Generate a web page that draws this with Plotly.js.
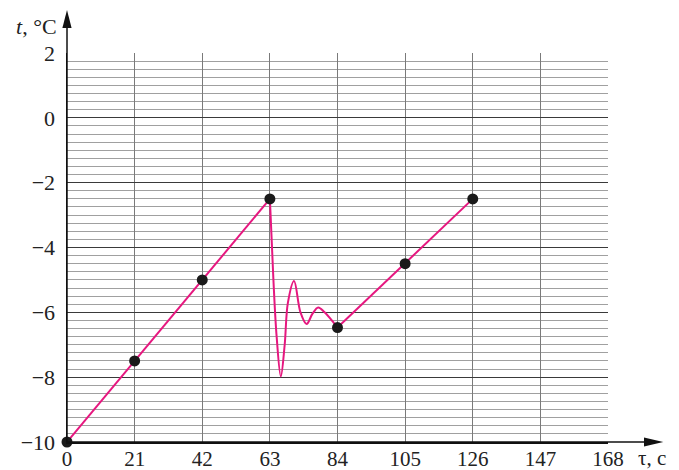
<!DOCTYPE html>
<html><head><meta charset="utf-8">
<script src="https://cdn.plot.ly/plotly-3.0.1.min.js"></script>
<style>html,body{margin:0;padding:0;background:#fff}</style>
</head><body>
<div id="chart" style="width:679px;height:470px"></div>
<script>
// measured points (time, s ; temperature, °C)
const pointTimes = [0, 21, 42, 63, 84, 105, 126];
const pointTemps = [-10, -7.5, -5, -2.5, -6.47, -4.5, -2.5];
// rising segment before the drop
const riseTimes = [0, 21, 42, 63];
const riseTemps = [-10, -7.5, -5, -2.5];
// oscillating segment between 63 s and 84 s
const oscTimes = [63, 64.1, 65.1, 66.4, 67.6, 68.6, 70.5, 72.5, 74.4, 76.2, 78, 80, 84];
const oscTemps = [-2.5, -5.0, -6.75, -7.98, -7.0, -5.7, -5.03, -6.0, -6.36, -6.05, -5.85, -6.0, -6.47];
// second rising segment
const rise2Times = [84, 105, 126];
const rise2Temps = [-6.47, -4.5, -2.5];
const xTicks = [0, 21, 42, 63, 84, 105, 126, 147, 168];
const yTicks = [-10, -8, -6, -4, -2, 0, 2];

const pink = '#e6177f';
const fam = 'Liberation Serif, DejaVu Serif, serif';
const font = {family: fam, size: 22, color: '#222'};
const xfont = {family: fam, size: 21, color: '#222'};

const traces = [
  {x: riseTimes, y: riseTemps, mode: 'lines', line: {color: pink, width: 2}, hoverinfo: 'skip'},
  {x: oscTimes, y: oscTemps, mode: 'lines', line: {color: pink, width: 2, shape: 'spline', smoothing: 1}, hoverinfo: 'skip'},
  {x: rise2Times, y: rise2Temps, mode: 'lines', line: {color: pink, width: 2}, hoverinfo: 'skip'},
  {x: pointTimes, y: pointTemps, mode: 'markers', marker: {color: '#1a1a1a', size: 11}, cliponaxis: false, hoverinfo: 'skip'}
];

const layout = {
  width: 679, height: 470,
  margin: {l: 67, r: 71, t: 53, b: 28},
  paper_bgcolor: '#fff', plot_bgcolor: '#fff',
  showlegend: false,
  font: font,
  xaxis: {
    range: [0, 168], tickvals: xTicks, ticktext: xTicks.map(String),
    showgrid: true, gridcolor: '#7a7a7a', gridwidth: 1,
    zeroline: false, showline: true, linecolor: '#111', linewidth: 1.5,
    ticks: '', ticklabelstandoff: -3, tickfont: xfont, fixedrange: true
  },
  yaxis: {
    range: [-10, 2], tickvals: yTicks, ticktext: yTicks.map(v => v < 0 ? '\u2212' + Math.abs(v) : String(v)),
    showgrid: true, gridcolor: '#3a3a3a', gridwidth: 1.2,
    minor: {dtick: 0.25, showgrid: true, gridcolor: '#a0a0a0', gridwidth: 1, ticks: ''},
    zeroline: false, showline: true, linecolor: '#111', linewidth: 1.5,
    ticks: '', ticklabelstandoff: 6, tickfont: font, fixedrange: true
  },
  shapes: [
    {type: 'line', xref: 'paper', yref: 'paper', x0: 0, y0: 0, x1: 1.07, y1: 0, line: {color: '#111', width: 1.5}},
    {type: 'path', xref: 'paper', yref: 'paper', path: 'M1.1022,0 L1.0665,0.0116 L1.0665,-0.0116 Z', fillcolor: '#111', line: {color: '#111', width: 0}},
    {type: 'line', xref: 'paper', yref: 'paper', x0: 0, y0: 0, x1: 0, y1: 1.07, line: {color: '#111', width: 1.5}},
    {type: 'path', xref: 'paper', yref: 'paper', path: 'M0,1.1105 L-0.0085,1.0643 L0.0085,1.0643 Z', fillcolor: '#111', line: {color: '#111', width: 0}}
  ],
  annotations: [
    {xref: 'paper', yref: 'paper', x: 1.052, y: -0.041, xanchor: 'left', yanchor: 'middle', showarrow: false,
     text: '\u03c4, c', font: xfont},
    {xref: 'paper', yref: 'paper', x: -0.015, y: 1.067, xanchor: 'right', yanchor: 'middle', showarrow: false,
     text: '<i>t</i>, °C', font: font}
  ]
};

Plotly.newPlot('chart', traces, layout, {staticPlot: true, displayModeBar: false});
</script>
</body></html>
